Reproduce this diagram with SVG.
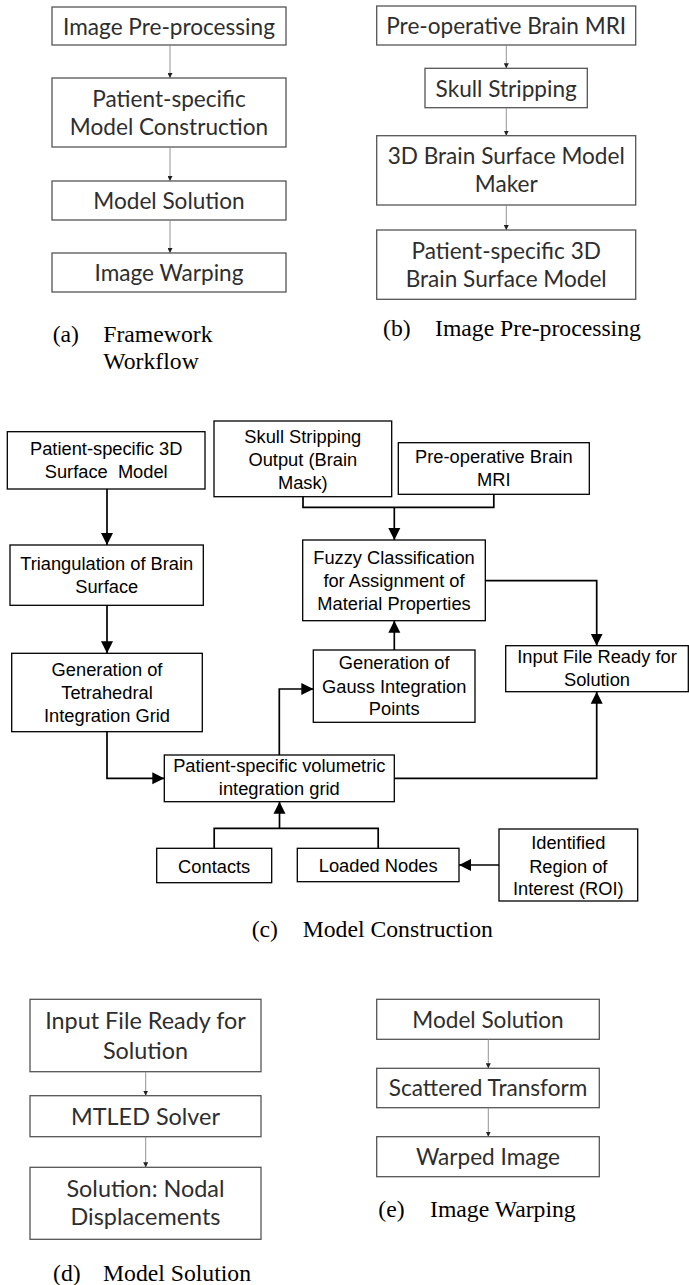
<svg xmlns="http://www.w3.org/2000/svg" width="689" height="1285" viewBox="0 0 689 1285">
<style>
.gbox{fill:#fff;stroke:#555;stroke-width:1.3}
.gt{font-family:Lato,"Open Sans",sans-serif;font-size:22.6px;fill:#2e2e2e;text-anchor:middle}
.gd{font-size:23.4px}
.gline{fill:none;stroke:#888;stroke-width:0.9}
.box{fill:#fff;stroke:#000;stroke-width:1.3}
.t{font-family:"Liberation Sans",Arial,sans-serif;font-size:18.3px;fill:#000;text-anchor:middle}
.line{fill:none;stroke:#000;stroke-width:1.7}
.cap{font-family:"Liberation Serif","Times New Roman",serif;font-size:23.7px;fill:#000}
</style>
<defs>
<marker id="sm" viewBox="0 0 6 6" refX="6" refY="3" markerWidth="5" markerHeight="5" markerUnits="userSpaceOnUse" orient="auto"><path d="M0,0 L6,3 L0,6 z" fill="#222"/></marker>
<marker id="big" viewBox="0 0 12 12" refX="12" refY="6" markerWidth="12" markerHeight="12.5" markerUnits="userSpaceOnUse" orient="auto"><path d="M0,0 L12,6 L0,12 z" fill="#000"/></marker>
</defs>

<!-- Panel (a) -->
<g id="a-preproc"><rect class="gbox" x="52" y="7" width="234" height="38"/><text class="gt" x="169" y="34.5">Image Pre-processing</text></g>
<g id="a-model"><rect class="gbox" x="52" y="78" width="234" height="69"/><text class="gt" x="169" y="107">Patient-specific</text><text class="gt" x="169" y="135">Model Construction</text></g>
<g id="a-solution"><rect class="gbox" x="52" y="181" width="234" height="39"/><text class="gt" x="169" y="208.5">Model Solution</text></g>
<g id="a-warping"><rect class="gbox" x="52" y="253" width="234" height="39"/><text class="gt" x="169" y="280.5">Image Warping</text></g>

<!-- Panel (b) -->
<g id="b-mri"><rect class="gbox" x="376.7" y="6" width="259" height="39"/><text class="gt" x="506.2" y="34.3">Pre-operative Brain MRI</text></g>
<g id="b-skull"><rect class="gbox" x="425" y="68.3" width="162.3" height="39.4"/><text class="gt" x="506.2" y="96.5">Skull Stripping</text></g>
<g id="b-maker"><rect class="gbox" x="376.7" y="135.7" width="259" height="69.3"/><text class="gt" x="506.2" y="164">3D Brain Surface Model</text><text class="gt" x="506.2" y="192.3">Maker</text></g>
<g id="b-surface"><rect class="gbox" x="376.7" y="230" width="259" height="69.3"/><text class="gt" x="506.2" y="259">Patient-specific 3D</text><text class="gt" x="506.2" y="287.3">Brain Surface Model</text></g>

<!-- Panel (c) -->
<g id="c-ps3d"><rect class="box" x="7.3" y="431.7" width="197.7" height="57.3"/><text class="t" x="106.2" y="455">Patient-specific 3D</text><text class="t" x="106.2" y="478.3" xml:space="preserve">Surface  Model</text></g>
<g id="c-tri"><rect class="box" x="10" y="545" width="193.3" height="60.3"/><text class="t" x="106.7" y="570">Triangulation of Brain</text><text class="t" x="106.7" y="593">Surface</text></g>
<g id="c-tetra"><rect class="box" x="11.7" y="653.3" width="190.6" height="78.4"/><text class="t" x="107" y="676">Generation of</text><text class="t" x="107" y="699.3">Tetrahedral</text><text class="t" x="107" y="721.7">Integration Grid</text></g>
<g id="c-skull"><rect class="box" x="214" y="421" width="177.7" height="75.7"/><text class="t" x="302.8" y="443">Skull Stripping</text><text class="t" x="302.8" y="466">Output (Brain</text><text class="t" x="302.8" y="488.5">Mask)</text></g>
<g id="c-mri"><rect class="box" x="398.3" y="442.7" width="191" height="51.6"/><text class="t" x="493.8" y="463.3">Pre-operative Brain</text><text class="t" x="493.8" y="486">MRI</text></g>
<g id="c-fuzzy"><rect class="box" x="302.7" y="540" width="182.6" height="80.7"/><text class="t" x="394" y="564.3">Fuzzy Classification</text><text class="t" x="394" y="587">for Assignment of</text><text class="t" x="394" y="610">Material Properties</text></g>
<g id="c-gauss"><rect class="box" x="313.3" y="650" width="161.7" height="72.3"/><text class="t" x="394.2" y="669.3">Generation of</text><text class="t" x="394.2" y="692.7">Gauss Integration</text><text class="t" x="394.2" y="715">Points</text></g>
<g id="c-input"><rect class="box" x="505.7" y="645.7" width="182.6" height="46"/><text class="t" x="597" y="663.3">Input File Ready for</text><text class="t" x="597" y="686">Solution</text></g>
<g id="c-vol"><rect class="box" x="164.3" y="755" width="230" height="46.7"/><text class="t" x="279.3" y="771.5">Patient-specific volumetric</text><text class="t" x="279.3" y="795">integration grid</text></g>
<g id="c-contacts"><rect class="box" x="156.7" y="848.3" width="115" height="34.4"/><text class="t" x="214.2" y="873">Contacts</text></g>
<g id="c-loaded"><rect class="box" x="297.3" y="848.3" width="161.7" height="33.4"/><text class="t" x="378.2" y="872">Loaded Nodes</text></g>
<g id="c-roi"><rect class="box" x="499" y="829" width="138.7" height="72"/><text class="t" x="568.3" y="849.3">Identified</text><text class="t" x="568.3" y="872.7">Region of</text><text class="t" x="568.3" y="895">Interest (ROI)</text></g>

<!-- Panel (d) -->
<g id="d-input"><rect class="gbox" x="30" y="999.3" width="231" height="72.4"/><text class="gt gd" x="145.5" y="1029">Input File Ready for</text><text class="gt gd" x="145.5" y="1059">Solution</text></g>
<g id="d-mtled"><rect class="gbox" x="30" y="1095.7" width="231" height="41"/><text class="gt gd" x="145.5" y="1125">MTLED Solver</text></g>
<g id="d-nodal"><rect class="gbox" x="30" y="1167.3" width="231" height="72"/><text class="gt gd" x="145.5" y="1196.7">Solution: Nodal</text><text class="gt gd" x="145.5" y="1225">Displacements</text></g>

<!-- Panel (e) -->
<g id="e-solution"><rect class="gbox" x="376.7" y="999.3" width="222.6" height="40"/><text class="gt" x="488" y="1028">Model Solution</text></g>
<g id="e-scatter"><rect class="gbox" x="376.7" y="1068.3" width="222.6" height="39.4"/><text class="gt" x="488" y="1096">Scattered Transform</text></g>
<g id="e-warped"><rect class="gbox" x="376.7" y="1136.7" width="222.6" height="40"/><text class="gt" x="488" y="1165">Warped Image</text></g>

<g id="connectors">
<path class="gline" d="M170,45 V78" marker-end="url(#sm)"/>
<path class="gline" d="M170,147 V181" marker-end="url(#sm)"/>
<path class="gline" d="M170,220 V253" marker-end="url(#sm)"/>
<path class="gline" d="M506.3,45 V68.3" marker-end="url(#sm)"/>
<path class="gline" d="M506.3,107.7 V135.7" marker-end="url(#sm)"/>
<path class="gline" d="M506.3,205 V230" marker-end="url(#sm)"/>
<path class="gline" d="M145.7,1071.7 V1095.7" marker-end="url(#sm)"/>
<path class="gline" d="M145.7,1136.7 V1167.3" marker-end="url(#sm)"/>
<path class="gline" d="M488.3,1039.3 V1068.3" marker-end="url(#sm)"/>
<path class="gline" d="M488.3,1107.7 V1136.7" marker-end="url(#sm)"/>

<path class="line" d="M107,489 V545" marker-end="url(#big)"/>
<path class="line" d="M107,605.3 V653.3" marker-end="url(#big)"/>
<path class="line" d="M107,731.7 V778.3 H164.3" marker-end="url(#big)"/>
<path class="line" d="M303,496.7 V507.3 H493.8 V494.3"/>
<path class="line" d="M394.3,507.3 V540" marker-end="url(#big)"/>
<path class="line" d="M279.3,755 V689 H313.3" marker-end="url(#big)"/>
<path class="line" d="M394.3,650 V620.7" marker-end="url(#big)"/>
<path class="line" d="M485.3,580.7 H596.7 V645.7" marker-end="url(#big)"/>
<path class="line" d="M394.3,778.3 H596.7 V691.7" marker-end="url(#big)"/>
<path class="line" d="M214.2,848.3 V828.3 H378.2 V848.3"/>
<path class="line" d="M279.5,828.3 V801.7" marker-end="url(#big)"/>
<path class="line" d="M499,865 H459" marker-end="url(#big)"/>
</g>

<!-- Captions -->
<text class="cap" x="52.7" y="341.7">(a)</text>
<text class="cap" x="103.3" y="341.7">Framework</text>
<text class="cap" x="103.3" y="369">Workflow</text>
<text class="cap" x="383" y="336">(b)</text>
<text class="cap" x="435" y="336">Image Pre-processing</text>
<text class="cap" x="251.7" y="937">(c)</text>
<text class="cap" x="302.7" y="937">Model Construction</text>
<text class="cap" x="53" y="1281">(d)</text>
<text class="cap" x="103" y="1281">Model Solution</text>
<text class="cap" x="378.3" y="1217">(e)</text>
<text class="cap" x="430" y="1217">Image Warping</text>
</svg>
